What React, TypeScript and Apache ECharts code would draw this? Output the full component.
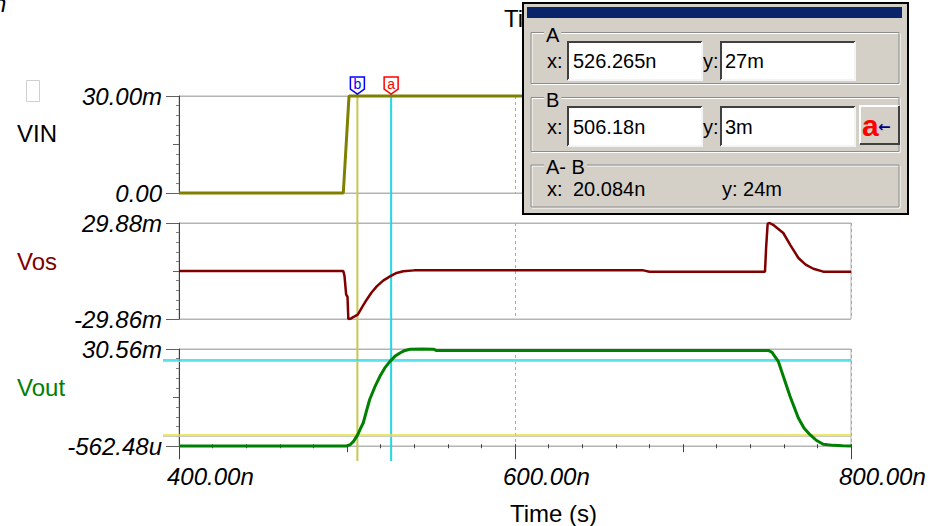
import React, { useEffect, useRef } from "react";
import * as echarts from "echarts";

// ---------- data ----------
const timeRange = [400, 800];
const timeTickLabels = ["400.00n", "600.00n", "800.00n"];
const timeTitle = "Time (s)";

const vinRange = [0, 30];
const vinTickLabels = ["0.00", "30.00m"];
const vosRange = [-29.86, 29.88];
const vosTickLabels = ["-29.86m", "29.88m"];
const voutRange = [-0.56248, 30.56];
const voutTickLabels = ["-562.48u", "30.56m"];

const seriesNames = ["VIN", "Vos", "Vout"];

const vinT = [400, 497.8, 501.2, 747, 750.5, 800];
const vinV = [0, 0, 30, 30, 0, 0];

const vosT = [
  400, 497.8, 498.5, 499.5, 500.3, 500.8, 502.5, 504, 506.4, 509, 511.7, 514.5,
  517.7, 521.5, 525.6, 529.5, 533.5, 540, 676.4, 680, 748.8, 749.5, 750.4,
  751.5, 754, 759.7, 764, 768.7, 773, 777.6, 783.5, 800,
];
const vosV = [
  0, 0, -3, -14.7, -16, -29.86, -29.5, -28.5, -27.2, -22.5, -17.85, -13.5,
  -9.57, -6, -3.35, -1.2, -0.1, 0.4, 0.4, -0.4, -0.4, 15, 29.5, 29.88, 28.5,
  23.66, 16, 8.1, 4, 1.4, -0.4, -0.4,
];

const voutT = [
  400, 499.8, 502, 504, 506.4, 508, 509.7, 511.5, 513.5, 516.5, 519.6, 522.5,
  525.6, 528.5, 531.5, 534.5, 537.5, 545, 551.4, 553, 750.8, 753, 756.7, 759.7,
  763.7, 768.6, 772, 775.6, 779.5, 783.5, 789.5, 795, 800,
];
const voutV = [
  -0.55, -0.55, -0.1, 1.0, 3.08, 5, 6.9, 10.5, 14.36, 18.3, 21.8, 24.5, 26.6,
  28.2, 29.28, 30.1, 30.5, 30.56, 30.5, 30.1, 30.1, 29.5, 26.6, 21.8, 15.4, 8.5,
  5.2, 3.08, 1.2, 0, -0.36, -0.5, -0.55,
];

const cursorA = { x: 526.265, y: 27 };
const cursorB = { x: 506.18, y: 3 };
const readoutA = ["526.265n", "27m"];
const readoutB = ["506.18n", "3m"];
const readoutDiff = ["20.084n", "24m"];

// ---------- styles ----------
const FONT = "'Liberation Sans', Arial, sans-serif";
const zip = (t: number[], v: number[]) => t.map((x, i) => [x, v[i]]);

const gridBorder = "#b4b4b4";
const dark = "#404040";

function yAxesFor(gridIndex: number, range: number[], labels: string[]) {
  const [min, max] = range;
  return [
    {
      type: "value",
      gridIndex,
      position: "left",
      offset: 0,
      min,
      max,
      interval: max - min,
      axisLine: { show: true, lineStyle: { color: dark, width: 1 } },
      axisTick: { show: true, length: 13, lineStyle: { color: "#606060" } },
      axisLabel: {
        show: true,
        margin: 17,
        fontFamily: FONT,
        fontSize: 24,
        fontStyle: "italic",
        color: "#000",
        showMinLabel: true,
        showMaxLabel: true,
        formatter: (v: number) => (v < (min + max) / 2 ? labels[0] : labels[1]),
      },
      splitLine: { show: true, lineStyle: { color: gridBorder, width: 1 } },
    },
    {
      type: "value",
      gridIndex,
      position: "left",
      offset: 0,
      min,
      max,
      interval: (max - min) / 2,
      axisLine: { show: false },
      axisTick: { show: true, length: 6, lineStyle: { color: "#606060" } },
      minorTick: { show: true, splitNumber: 5, length: 3, lineStyle: { color: "#808080" } },
      axisLabel: { show: false },
      splitLine: { show: false },
    },
  ];
}

function plainX(gridIndex: number) {
  return {
    type: "value",
    gridIndex,
    min: timeRange[0],
    max: timeRange[1],
    interval: 200,
    axisLine: { show: false },
    axisTick: { show: false },
    axisLabel: { show: false },
    splitLine: { show: true, lineStyle: { color: "#a8a8a8", type: [3, 3], width: 1 } },
  };
}

export default function App() {
  const ref = useRef<HTMLDivElement>(null);

  useEffect(() => {
    if (!ref.current) return;
    const chart = echarts.init(ref.current, undefined, { renderer: "svg" });

    const grids = [
      { left: 179, top: 96, width: 672, height: 97 },
      { left: 179, top: 223, width: 672, height: 96 },
      { left: 179, top: 349, width: 672, height: 97 },
    ].map((g) => ({ ...g, show: true, borderColor: gridBorder, borderWidth: 1, backgroundColor: "transparent" }));

    const xAxis: any[] = [
      plainX(0),
      plainX(1),
      {
        type: "value",
        gridIndex: 2,
        position: "bottom",
        min: timeRange[0],
        max: timeRange[1],
        interval: 200,
        axisLine: { show: false },
        axisTick: { show: true, length: 15, lineStyle: { color: dark } },
        axisLabel: {
          show: true,
          align: "left",
          padding: [0, 0, 0, -12],
          margin: 18,
          fontFamily: FONT,
          fontSize: 24,
          fontStyle: "italic",
          color: "#000",
          showMinLabel: true,
          showMaxLabel: true,
          formatter: (v: number) => timeTickLabels[Math.round((v - timeRange[0]) / 200)],
        },
        splitLine: { show: true, lineStyle: { color: "#a8a8a8", type: [3, 3], width: 1 } },
      },
      {
        type: "value",
        gridIndex: 2,
        position: "bottom",
        offset: 0,
        min: timeRange[0],
        max: timeRange[1],
        interval: 100,
        axisLine: { show: false },
        axisTick: { show: true, length: 8, lineStyle: { color: dark } },
        minorTick: { show: true, splitNumber: 5, length: 4, lineStyle: { color: dark } },
        axisLabel: { show: false },
        splitLine: { show: false },
      },
    ];

    const yAxis: any[] = [
      ...yAxesFor(0, vinRange, vinTickLabels),
      ...yAxesFor(1, vosRange, vosTickLabels),
      ...yAxesFor(2, voutRange, voutTickLabels),
    ];

    chart.setOption({
      animation: false,
      backgroundColor: "#ffffff",
      grid: grids,
      xAxis,
      yAxis,
      series: [
        {
          name: seriesNames[0],
          type: "line",
          xAxisIndex: 0,
          yAxisIndex: 0,
          data: zip(vinT, vinV),
          showSymbol: false,
          clip: false,
          z: 3,
          lineStyle: { color: "#808000", width: 3 },
        },
        {
          name: seriesNames[1],
          type: "line",
          xAxisIndex: 1,
          yAxisIndex: 2,
          data: zip(vosT, vosV),
          showSymbol: false,
          clip: false,
          z: 3,
          lineStyle: { color: "#800000", width: 2.5 },
        },
        {
          name: seriesNames[2],
          type: "line",
          xAxisIndex: 2,
          yAxisIndex: 4,
          data: zip(voutT, voutV),
          showSymbol: false,
          clip: false,
          z: 3,
          lineStyle: { color: "#008000", width: 3 },
        },
      ],
    });

    const px = (g: number, x: number, y: number) =>
      chart.convertToPixel({ gridIndex: g } as any, [x, y]) as number[];

    const xa = px(0, cursorA.x, 0)[0];
    const xb = px(0, cursorB.x, 0)[0];
    const yTop = px(0, timeRange[0], vinRange[1])[1];
    const yBot = px(2, timeRange[0], voutRange[0])[1];
    const xLeft = px(2, timeRange[0], 0)[0];
    const xRight = px(2, timeRange[1], 0)[0];
    const yA = px(2, timeRange[0], cursorA.y)[1];
    const yB = px(2, timeRange[0], cursorB.y)[1];

    const curA = "#20d8e8";
    const curB = "#c8c850";

    const marker = (cx: number, label: string, color: string) => [
      {
        type: "polygon",
        z: 5,
        shape: { points: [[cx - 7, yTop - 19], [cx + 7, yTop - 19], [cx + 7, yTop - 7], [cx, yTop - 2], [cx - 7, yTop - 7]] },
        style: { fill: "#fff", stroke: color, lineWidth: 1.5 },
      },
      {
        type: "text",
        z: 6,
        x: cx,
        y: yTop - 12,
        style: { text: label, fill: color, font: `14px ${FONT}`, align: "center", verticalAlign: "middle" },
      },
    ];

    const txt = (x: number, y: number, text: string, extra: any = {}) => ({
      type: "text",
      z: 60,
      x,
      y,
      style: { text, fill: "#000", font: `20px ${FONT}`, align: "left", verticalAlign: "middle", ...extra },
    });

    const field = (x: number, y: number, w: number, h: number) => [
      { type: "rect", z: 55, shape: { x, y, width: w, height: h }, style: { fill: "#ffffff" } },
      { type: "polyline", z: 56, shape: { points: [[x, y + h], [x, y], [x + w, y]] }, style: { stroke: "#404040", lineWidth: 2, fill: null } },
      { type: "polyline", z: 56, shape: { points: [[x, y + h], [x + w, y + h], [x + w, y]] }, style: { stroke: "#f4f4f4", lineWidth: 2, fill: null } },
    ];

    const groupBox = (y: number, h: number, label: string) => [
      { type: "rect", z: 52, shape: { x: 532, y: y + 1, width: 368, height: h }, style: { fill: null, stroke: "#ffffff", lineWidth: 1 } },
      { type: "rect", z: 53, shape: { x: 531, y, width: 368, height: h }, style: { fill: null, stroke: "#8c8c8c", lineWidth: 1 } },
      txt(544, y + 2, label, { backgroundColor: "#d4d0c8", padding: [0, 2] }),
    ];

    const elements: any[] = [
      // cursors
      { type: "line", z: 1, shape: { x1: xb, y1: yTop - 2, x2: xb, y2: yBot + 15 }, style: { stroke: curB, lineWidth: 2 } },
      { type: "line", z: 1, shape: { x1: xa, y1: yTop - 2, x2: xa, y2: yBot + 15 }, style: { stroke: curA, lineWidth: 2 } },
      { type: "line", z: 1, shape: { x1: xLeft - 16, y1: yA, x2: xRight, y2: yA }, style: { stroke: curA, lineWidth: 1.5 } },
      { type: "line", z: 1, shape: { x1: xLeft - 16, y1: yA + 1.5, x2: xRight, y2: yA + 1.5 }, style: { stroke: "#b8c8c8", lineWidth: 1 } },
      { type: "line", z: 1, shape: { x1: xLeft - 16, y1: yB, x2: xRight, y2: yB }, style: { stroke: "#e8e040", lineWidth: 1.5 } },
      { type: "line", z: 1, shape: { x1: xLeft - 16, y1: yB + 1.5, x2: xRight, y2: yB + 1.5 }, style: { stroke: "#c8c8b8", lineWidth: 1 } },
      ...marker(xb, "b", "#0000ff"),
      ...marker(xa, "a", "#ff0000"),
      // series labels
      { type: "text", z: 10, x: 17, y: 133, style: { text: seriesNames[0], fill: "#000", font: `24px ${FONT}`, verticalAlign: "middle" } },
      { type: "text", z: 10, x: 17, y: 261, style: { text: seriesNames[1], fill: "#800000", font: `24px ${FONT}`, verticalAlign: "middle" } },
      { type: "text", z: 10, x: 17, y: 387, style: { text: seriesNames[2], fill: "#008000", font: `24px ${FONT}`, verticalAlign: "middle" } },
      { type: "text", z: 10, x: 510, y: 513, style: { text: timeTitle, fill: "#000", font: `24px ${FONT}`, verticalAlign: "middle" } },
      { type: "text", z: 10, x: 504, y: 18, style: { text: "Ti", fill: "#000", font: `24px ${FONT}`, verticalAlign: "middle" } },
      { type: "text", z: 10, x: -7, y: 3, style: { text: "n", fill: "#000", font: `italic 24px ${FONT}`, verticalAlign: "middle" } },
      { type: "rect", z: 10, shape: { x: 26.5, y: 80.5, width: 13, height: 21 }, style: { fill: "#fff", stroke: "#d0d0d0", lineWidth: 1 } },
      // dialog
      { type: "rect", z: 50, shape: { x: 523, y: 3, width: 385, height: 211 }, style: { fill: "#d4d0c8", stroke: "#000", lineWidth: 2 } },
      { type: "rect", z: 51, shape: { x: 527, y: 7, width: 375, height: 11 }, style: { fill: "#0a246a" } },
      ...groupBox(32.5, 51, "A"),
      ...groupBox(97.5, 54, "B"),
      ...groupBox(165, 42, "A- B"),
      ...field(568, 42, 134, 38),
      ...field(721, 42, 134, 38),
      ...field(568, 107, 134, 39),
      ...field(721, 107, 134, 39),
      txt(547, 61, "x:"),
      txt(703, 61, "y:"),
      txt(573, 61, readoutA[0]),
      txt(725, 61, readoutA[1]),
      txt(547, 127, "x:"),
      txt(703, 127, "y:"),
      txt(573, 127, readoutB[0]),
      txt(725, 127, readoutB[1]),
      txt(547, 189, "x:"),
      txt(573, 189, readoutDiff[0]),
      txt(722, 189, "y: " + readoutDiff[1]),
      // button
      { type: "rect", z: 55, shape: { x: 860, y: 106, width: 39, height: 38 }, style: { fill: "#d4d0c8" } },
      { type: "polyline", z: 56, shape: { points: [[860, 144], [860, 106], [899, 106]] }, style: { stroke: "#ffffff", lineWidth: 2, fill: null } },
      { type: "polyline", z: 56, shape: { points: [[860, 144], [899, 144], [899, 106]] }, style: { stroke: "#404040", lineWidth: 2, fill: null } },
      { type: "text", z: 60, x: 862, y: 125, style: { text: "a", fill: "#ff0000", font: `bold 30px ${FONT}`, verticalAlign: "middle" } },
      { type: "text", z: 60, x: 878, y: 127, style: { text: "←", fill: "#000080", font: `bold 15px 'DejaVu Sans', sans-serif`, verticalAlign: "middle" } },
    ];

    chart.setOption({ graphic: { elements } });

    return () => chart.dispose();
  }, []);

  return (
    <div
      ref={ref}
      style={{ position: "fixed", left: 0, top: 0, width: 945, height: 526, background: "#fff" }}
    />
  );
}
